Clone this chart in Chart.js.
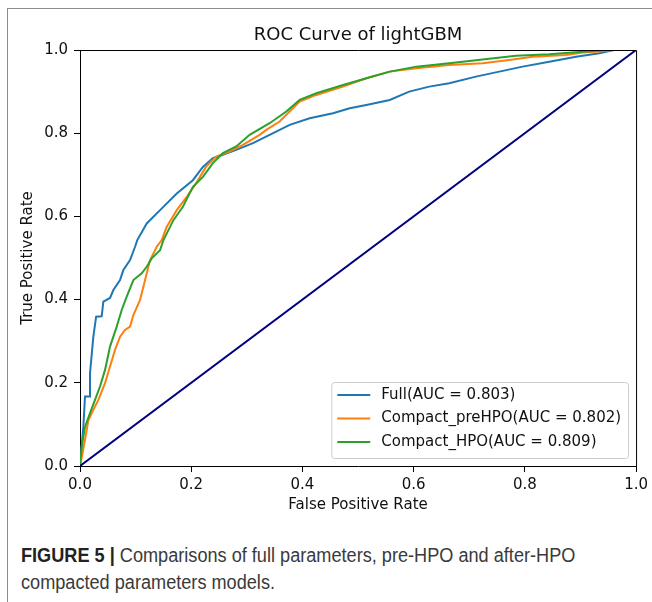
<!DOCTYPE html>
<html>
<head>
<meta charset="utf-8">
<script src="https://cdn.jsdelivr.net/npm/chart.js@4/dist/chart.umd.min.js"></script>
<style>
  body { margin: 0; background: #fff; overflow: hidden; width: 652px; height: 602px; position: relative; }
  #frame { position: absolute; left: 7px; top: 8px; width: 700px; height: 700px; border: 1.5px solid #8c8c8c; }
  #chart { position: absolute; left: 0; top: 0; }
  #caption { position: absolute; left: 21px; top: 542px; width: 680px; font-family: "Liberation Sans", Arial, sans-serif; font-size: 19.5px; line-height: 27px; color: #3a3a3a; transform: scaleX(0.93); transform-origin: 0 0; white-space: nowrap; }
  #caption b { color: #222; }
</style>
</head>
<body>
<div id="frame"></div>
<canvas id="chart" width="652" height="520"></canvas>
<div id="caption"><b>FIGURE 5 |</b> Comparisons of full parameters, pre-HPO and after-HPO<br>compacted parameters models.</div>
<script>
// values
var fprFull = [0, 0.006, 0.009, 0.018, 0.018, 0.024, 0.029, 0.039, 0.042, 0.054, 0.06, 0.072, 0.078, 0.09, 0.099, 0.103, 0.12, 0.144, 0.174, 0.203, 0.221, 0.239, 0.257, 0.281, 0.311, 0.341, 0.377, 0.413, 0.455, 0.485, 0.515, 0.557, 0.592, 0.628, 0.664, 0.712, 0.754, 0.796, 0.844, 0.892, 0.934, 0.96, 1];
var tprFull = [0, 0.094, 0.167, 0.167, 0.223, 0.311, 0.359, 0.36, 0.395, 0.404, 0.423, 0.447, 0.471, 0.495, 0.527, 0.543, 0.583, 0.615, 0.655, 0.687, 0.719, 0.74, 0.748, 0.76, 0.776, 0.796, 0.82, 0.836, 0.848, 0.86, 0.868, 0.88, 0.9, 0.912, 0.92, 0.936, 0.948, 0.96, 0.972, 0.984, 0.992, 1, 1];

var fprPre = [0, 0.003, 0.009, 0.015, 0.024, 0.033, 0.045, 0.054, 0.063, 0.072, 0.081, 0.09, 0.096, 0.108, 0.117, 0.126, 0.138, 0.147, 0.156, 0.174, 0.192, 0.209, 0.227, 0.245, 0.269, 0.293, 0.323, 0.335, 0.359, 0.377, 0.395, 0.425, 0.473, 0.515, 0.557, 0.605, 0.664, 0.724, 0.772, 0.814, 0.874, 0.904, 0.94, 0.96, 1];
var tprPre = [0, 0.02, 0.063, 0.11, 0.135, 0.159, 0.199, 0.239, 0.279, 0.311, 0.327, 0.335, 0.363, 0.399, 0.447, 0.495, 0.527, 0.543, 0.575, 0.615, 0.647, 0.68, 0.72, 0.744, 0.756, 0.772, 0.796, 0.808, 0.828, 0.852, 0.876, 0.892, 0.912, 0.932, 0.948, 0.956, 0.964, 0.968, 0.976, 0.984, 0.988, 0.994, 0.997, 1, 1];

var fprHpo = [0, 0.003, 0.009, 0.018, 0.027, 0.036, 0.045, 0.054, 0.066, 0.075, 0.084, 0.096, 0.111, 0.12, 0.129, 0.144, 0.15, 0.168, 0.185, 0.203, 0.221, 0.239, 0.257, 0.281, 0.305, 0.341, 0.371, 0.395, 0.425, 0.473, 0.515, 0.557, 0.605, 0.664, 0.724, 0.784, 0.844, 0.904, 0.95, 1];
var tprHpo = [0, 0.046, 0.094, 0.127, 0.159, 0.191, 0.231, 0.287, 0.335, 0.375, 0.407, 0.447, 0.463, 0.479, 0.499, 0.519, 0.543, 0.591, 0.623, 0.671, 0.695, 0.728, 0.752, 0.768, 0.796, 0.824, 0.852, 0.88, 0.896, 0.916, 0.932, 0.948, 0.96, 0.968, 0.977, 0.986, 0.99, 0.996, 1, 1];

var diagX = [0, 1];
var diagY = [0, 1];

var seriesNames = ['Full(AUC = 0.803)', 'Compact_preHPO(AUC = 0.802)', 'Compact_HPO(AUC = 0.809)'];
var seriesColors = ['#1f77b4', '#ff7f0e', '#2ca02c'];

function toPoints(xs, ys) {
  var pts = [];
  for (var i = 0; i < xs.length; i++) pts.push({x: xs[i], y: ys[i]});
  return pts;
}

var tickFont = {family: 'DejaVu Sans', size: 15};

// matplotlib-like frame + legend inside the axes
var boxPlugin = {
  id: 'boxPlugin',
  afterDatasetsDraw: function(chart) {
    var ctx = chart.ctx, a = chart.chartArea;
    ctx.save();
    ctx.strokeStyle = '#000';
    ctx.lineWidth = 1;
    ctx.beginPath();
    ctx.moveTo(a.left, a.top + 0.5);
    ctx.lineTo(a.right + 0.5, a.top + 0.5);
    ctx.lineTo(a.right + 0.5, a.bottom);
    ctx.stroke();

    ctx.font = '15px "DejaVu Sans"';
    var tw = 0;
    seriesNames.forEach(function(n) { tw = Math.max(tw, ctx.measureText(n).width); });
    var w = 6 + 33 + 11 + tw + 7, h = 76;
    var x = a.right - 8 - w, y = a.bottom - 8 - h;
    ctx.beginPath();
    ctx.roundRect(x + 0.5, y + 0.5, w, h, 3);
    ctx.fillStyle = 'rgba(255,255,255,0.8)';
    ctx.fill();
    ctx.strokeStyle = '#cccccc';
    ctx.stroke();
    ctx.textBaseline = 'middle';
    for (var i = 0; i < seriesNames.length; i++) {
      var cy = y + 13 + i * 23.5;
      ctx.strokeStyle = seriesColors[i];
      ctx.lineWidth = 2;
      ctx.beginPath();
      ctx.moveTo(x + 6, cy);
      ctx.lineTo(x + 39, cy);
      ctx.stroke();
      ctx.fillStyle = '#111';
      ctx.fillText(seriesNames[i], x + 50, cy);
    }
    ctx.restore();
  }
};

new Chart(document.getElementById('chart'), {
  type: 'scatter',
  data: {
    datasets: [
      {label: seriesNames[0], data: toPoints(fprFull, tprFull), showLine: true, borderColor: seriesColors[0], borderWidth: 2, pointRadius: 0, order: 3},
      {label: seriesNames[1], data: toPoints(fprPre, tprPre), showLine: true, borderColor: seriesColors[1], borderWidth: 2, pointRadius: 0, order: 2},
      {label: seriesNames[2], data: toPoints(fprHpo, tprHpo), showLine: true, borderColor: seriesColors[2], borderWidth: 2, pointRadius: 0, order: 1},
      {label: 'chance', data: toPoints(diagX, diagY), showLine: true, borderColor: '#000080', borderWidth: 2, pointRadius: 0, order: 0}
    ]
  },
  options: {
    responsive: false,
    animation: false,
    devicePixelRatio: 1,
    layout: {padding: {left: 0, right: 15, top: 0, bottom: 0}},
    plugins: {
      legend: {display: false},
      tooltip: {enabled: false},
      title: {
        display: true,
        text: 'ROC Curve of lightGBM',
        fullSize: false,
        color: '#111',
        font: {family: 'DejaVu Sans', size: 18, weight: 'normal'},
        padding: {top: 25, bottom: 3.4}
      }
    },
    scales: {
      x: {
        type: 'linear', min: 0, max: 1,
        ticks: {stepSize: 0.2, font: tickFont, color: '#111', padding: 4, maxRotation: 0,
          callback: function(v) { return v.toFixed(1); }},
        grid: {drawOnChartArea: false, drawTicks: true, tickLength: 6, color: '#000'},
        border: {display: true, color: '#000', width: 1},
        title: {display: true, text: 'False Positive Rate', font: tickFont, color: '#111', padding: {top: 0, bottom: 6}},
        afterFit: function(s) { s.height = 54; }
      },
      y: {
        type: 'linear', min: 0, max: 1,
        ticks: {stepSize: 0.2, font: tickFont, color: '#111', padding: 6,
          callback: function(v) { return v.toFixed(1); }},
        grid: {drawOnChartArea: false, drawTicks: true, tickLength: 6, color: '#000'},
        border: {display: true, color: '#000', width: 1},
        title: {display: true, text: 'True Positive Rate', font: tickFont, color: '#111', padding: {top: 19, bottom: 0}},
        afterFit: function(s) { s.width = 80; }
      }
    }
  },
  plugins: [boxPlugin]
});
</script>
</body>
</html>
